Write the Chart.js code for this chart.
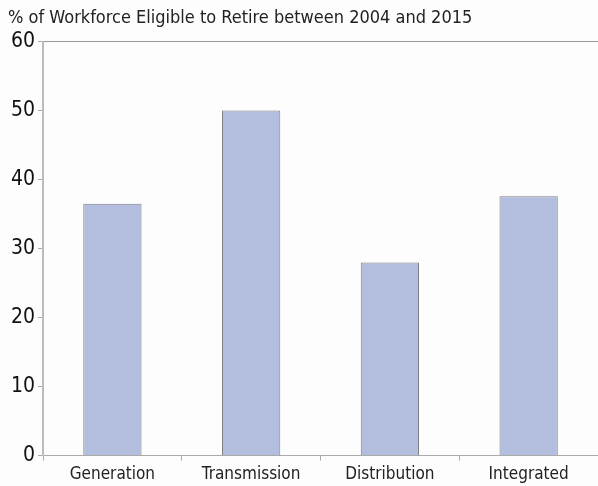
<!DOCTYPE html>
<html>
<head>
<meta charset="utf-8">
<script src="https://cdn.jsdelivr.net/npm/chart.js@4"></script>
<style>
  html, body { margin: 0; padding: 0; background: #fdfdfd; }
  #wrap { width: 598px; height: 486px; }
</style>
</head>
<body>
<div id="wrap"><canvas id="chart"></canvas></div>
<script>
const categories = ["Generation", "Transmission", "Distribution", "Integrated"];
const retirePct = [36.5, 50, 28, 37.6];
const yTicks = [0, 10, 20, 30, 40, 50, 60];

const FONT = "'Liberation Sans Narrow', 'DejaVu Sans Condensed', sans-serif";

new Chart(document.getElementById("chart"), {
  type: "bar",
  data: {
    labels: categories,
    datasets: [
      {
        label: "% eligible to retire",
        data: retirePct,
        backgroundColor: "#b3bedf",
        borderColor: "#7f7f85",
        borderWidth: 1,
        barPercentage: 0.42,
        categoryPercentage: 1,
      },
    ],
  },
  options: {
    responsive: true,
    maintainAspectRatio: false,
    animation: false,
    layout: { padding: { left: 8, right: 0, top: 8, bottom: -3 } },
    scales: {
      x: {
        offset: true,
        grid: {
          offset: true,
          drawOnChartArea: false,
          tickLength: 5,
          color: "#aaaaaa",
        },
        border: { color: "#aaaaaa" },
        ticks: {
          color: "#222222",
          font: { family: FONT, size: 17 },
          padding: 4,
        },
      },
      xTop: {
        position: "top",
        display: true,
        grid: { display: false },
        ticks: { display: false },
        border: { color: "#999999" },
      },
      y: {
        min: 0,
        max: 60,
        afterBuildTicks: (axis) => {
          axis.ticks = yTicks.map((v) => ({ value: v }));
        },
        grid: {
          drawOnChartArea: false,
          tickLength: 5,
          color: "#aaaaaa",
        },
        border: { color: "#bbbbbb", width: 2 },
        ticks: {
          color: "#111111",
          font: { family: FONT, size: 21 },
          padding: 3,
        },
      },
    },
    plugins: {
      legend: { display: false },
      tooltip: { enabled: false },
      title: {
        display: true,
        text: "% of Workforce Eligible to Retire between 2004 and 2015",
        align: "start",
        color: "#222222",
        font: { family: FONT, size: 18, weight: "normal" },
        padding: { top: 0, bottom: 4 },
      },
    },
  },
});
</script>
</body>
</html>
